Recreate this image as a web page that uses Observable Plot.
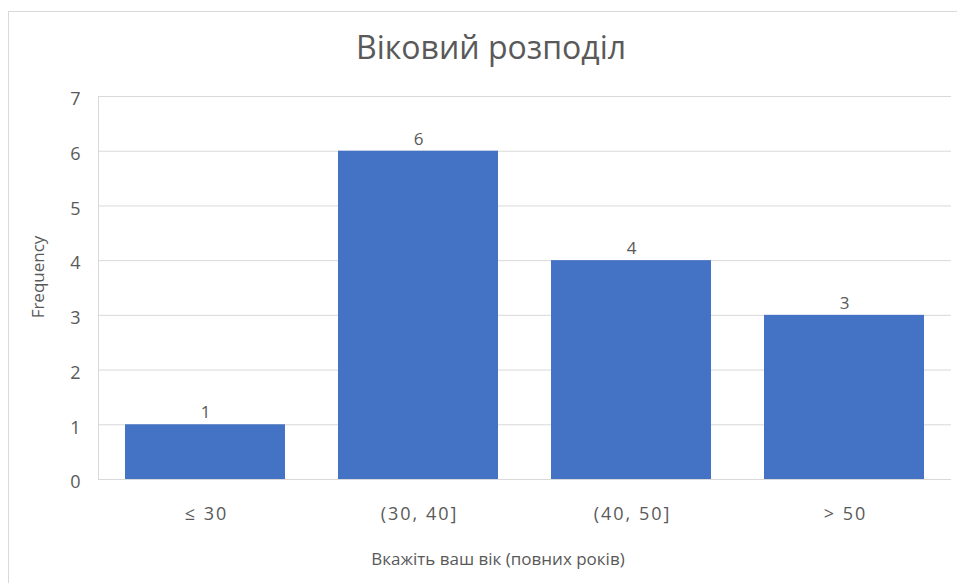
<!DOCTYPE html>
<html>
<head>
<meta charset="utf-8">
<script src="https://cdn.jsdelivr.net/npm/d3@7"></script>
<script src="https://cdn.jsdelivr.net/npm/@observablehq/plot@0.6"></script>
<style>
  html, body { margin: 0; padding: 0; background: #fff; }
  #wrap { position: relative; width: 957px; height: 583px; overflow: hidden; }
  #border { position: absolute; left: 8px; top: 11px; width: 1000px; height: 700px; border: 1px solid #d9d9d9; box-sizing: border-box; }
  #chart { position: absolute; left: 0; top: 0; }
  #chart g[aria-label="x-axis tick label"] text { letter-spacing: 2px; }
</style>
</head>
<body>
<div id="wrap"><div id="border"></div><div id="chart"></div></div>
<script>
const categories = ["≤ 30", "(30, 40]", "(40, 50]", "> 50"];
const frequencies = [1, 6, 4, 3];
const yTicks = [0, 1, 2, 3, 4, 5, 6, 7];
const titleText = "Віковий розподіл";
const xLabel = "Вкажіть ваш вік (повних років)";
const yLabel = "Frequency";

const data = categories.map((c, i) => ({category: c, n: frequencies[i]}));
const textColor = "#595959";
const font = "'Open Sans', 'Noto Sans', sans-serif";

const chart = Plot.plot({
  width: 957,
  height: 583,
  marginTop: 96,
  marginBottom: 104,
  marginLeft: 98,
  marginRight: 6,
  style: {fontFamily: font, fontSize: "17px", color: textColor, background: "transparent"},
  x: {domain: categories, paddingInner: 0.25, paddingOuter: 0.125, label: null},
  y: {domain: [0, 7], label: null},
  marks: [
    Plot.ruleY(yTicks, {stroke: "#d9d9d9", strokeWidth: 1}),
    Plot.frame({anchor: "left", stroke: "#d9d9d9"}),
    Plot.barY(data, {x: "category", y: "n", fill: "#4472C4"}),
    Plot.axisY({ticks: yTicks, tickSize: 0, tickPadding: 18, tickFormat: "d", fontSize: 18, dy: 3, fill: textColor, label: null}),
    Plot.axisX({tickSize: 0, tickPadding: 28, fontSize: 18, dx: 1, fill: textColor, label: null}),
    Plot.text(data, {x: "category", y: "n", text: d => String(d.n), dy: -12, fill: textColor, fontSize: 17}),
    Plot.text([titleText], {frameAnchor: "top", lineAnchor: "middle", textAnchor: "middle", dx: -34, dy: -48, fontSize: 32, fill: textColor}),
    Plot.text([xLabel], {frameAnchor: "bottom", lineAnchor: "middle", textAnchor: "middle", dx: -27, dy: 80, fontSize: 17, fill: textColor}),
    Plot.text([yLabel], {frameAnchor: "left", lineAnchor: "middle", textAnchor: "middle", dx: -60, dy: -11, rotate: -90, fontSize: 17, fill: textColor})
  ]
});
document.getElementById("chart").appendChild(chart);
</script>
</body>
</html>
